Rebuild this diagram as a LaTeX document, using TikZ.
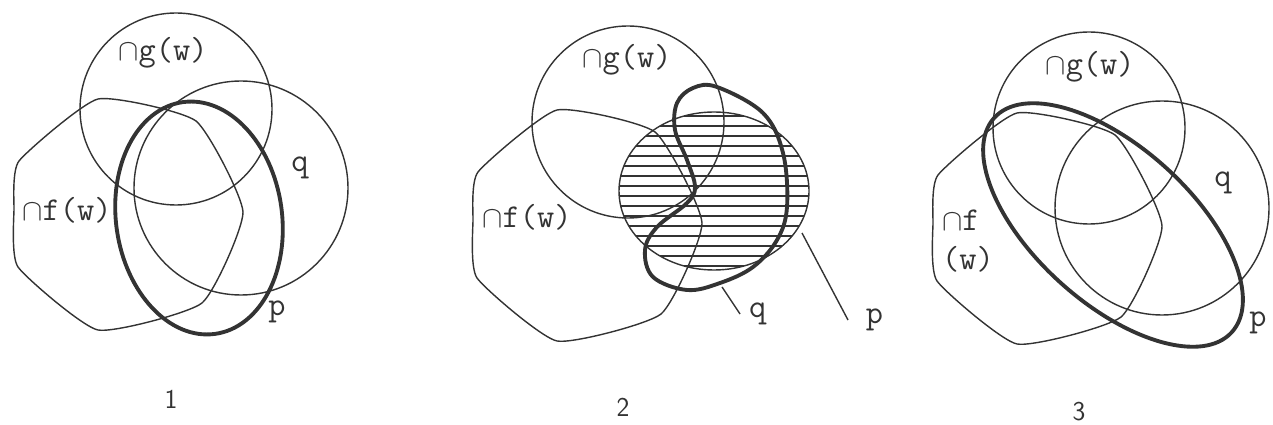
\documentclass[tikz,border=0pt]{standalone}
\usepackage{fontspec}
\usetikzlibrary{positioning}
\definecolor{ink}{HTML}{333333}
\tikzset{
  set line/.style={draw=ink, line width=0.8pt},
  prop line/.style={draw=ink, line width=2.2pt},
  hatch line/.style={draw=ink, line width=0.7pt},
  set label/.style={font=\ttfamily\fontsize{19}{22}\selectfont, text=ink, inner sep=1pt},
  panel num/.style={font=\sffamily\fontsize{15.5}{18}\selectfont, text=ink},
  fw set/.pic={
    \draw[set line] plot[smooth cycle, tension=.3] coordinates
      {(0,0) (98,22) (145,113) (104,204) (0,231) (-80,168) (-84,110) (-79,62)};
  }
}
\newcommand{\capp}{$\cap$}

\begin{document}
\begin{tikzpicture}[x=0.02cm, y=-0.02cm]
  \useasboundingbox (0,0) rectangle (1273,425);

  % 1
  \pic at (98,99) {fw set};
  \draw[set line] (176,109) circle (96);
  \draw[set line] (241,188) circle (107);
  \draw[prop line, rotate around={8:(199,218)}] (199,218) ellipse [x radius=83, y radius=117];
  \node[set label] (g1) at (163,53) {\capp g(w)};
  \node[set label] (f1) at (67,210) {\capp f(w)};
  \node[set label] (q1) at (300,168) {q};
  \node[set label] (p1) at (277,312) {p};
  \node[panel num] (n1) at (171,399) {1};

  % 2
  \pic at (557,110) {fw set};
  \draw[set line] (628,122) circle (96);
  \begin{scope}
    \clip (714,191) ellipse [x radius=95, y radius=79];
    \foreach \y in {116,126,...,266}
      \draw[hatch line] (610,\y) -- (820,\y);
  \end{scope}
  \draw[set line] (714,191) ellipse [x radius=95, y radius=79];
  \draw[prop line] plot[smooth cycle, tension=.6] coordinates
    {(717,87) (763,113) (783,153) (787,207) (777,240) (753,267) (720,283)
     (687,290) (653,277) (645,250) (657,227) (687,203) (695,187) (687,160)
     (675,130) (677,103) (693,88)};
  \node[set label] (g2) at (627,60) {\capp g(w)};
  \node[set label] (f2) at (527,217) {\capp f(w)};
  \coordinate (q2 foot) at (722,287);
  \coordinate (q2 tip) at (740,314);
  \node[set label, right=4pt of q2 tip] (q2) {q};
  \draw[set line] (q2 foot) -- (q2 tip);
  \coordinate (p2 foot) at (802,233);
  \coordinate (p2 tip) at (848,320);
  \node[set label, right=9pt of p2 tip] (p2) {p};
  \draw[set line] (p2 foot) -- (p2 tip);
  \node[panel num] (n2) at (623,407) {2};

  % 3
  \pic at (1017,113) {fw set};
  \draw[set line] (1089,128) circle (96);
  \draw[set line] (1162,208) circle (107);
  \draw[prop line, rotate around={-42:(1113,225)}] (1113,225) ellipse [x radius=160, y radius=78];
  \node[set label] (g3) at (1090,67) {\capp g(w)};
  \node[set label, align=left] (f3) at (968,241) {\capp f\\(w)};
  \node[set label] (q3) at (1223,183) {q};
  \node[set label] (p3) at (1258,323) {p};
  \node[panel num] (n3) at (1079,412) {3};
\end{tikzpicture}
\end{document}
